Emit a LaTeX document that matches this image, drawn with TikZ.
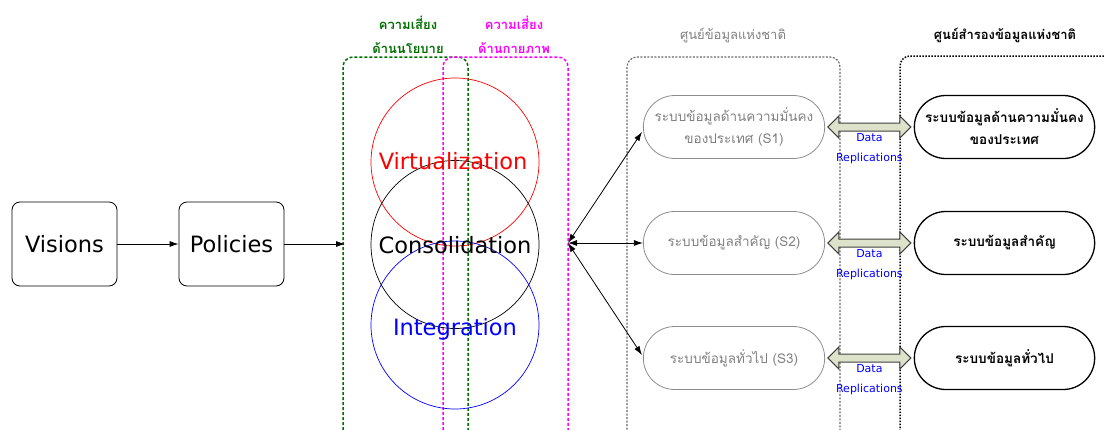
\documentclass[tikz,border=0pt]{standalone}
\usepackage{fontspec}
\setmainfont{Loma}[Script=Thai]
\newfontfamily\latinfont{DejaVu Sans}
\usetikzlibrary{arrows.meta,shapes.arrows,shapes.misc,calc}
\definecolor{dgreen}{RGB}{0,110,0}
\definecolor{magen}{RGB}{255,0,255}
\definecolor{grtxt}{RGB}{128,128,128}
\definecolor{grframe}{RGB}{105,105,105}
\definecolor{arrfill}{RGB}{221,226,202}
\tikzset{
  bigbox/.style={draw, rounded corners=8pt, minimum width=105pt, minimum height=84pt, line width=0.8pt, font=\latinfont\fontsize{22.5}{26}\selectfont},
  graynode/.style={rounded rectangle, draw=grtxt!90, text=grtxt, minimum width=188pt, minimum height=63pt, line width=0.8pt, align=center, font=\fontsize{13.5}{22}\selectfont},
  blacknode/.style={rounded rectangle, draw, minimum width=187pt, minimum height=63pt, line width=1.3pt, align=center, font=\fontsize{13.5}{22}\selectfont\bfseries},
  repl/.style={double arrow, draw=black!75, fill=arrfill, line width=1pt, minimum width=22pt, double arrow head extend=7pt, double arrow head indent=0pt, inner sep=3.5pt, minimum height=83pt},
  repltxt/.style={text=blue, font=\latinfont\fontsize{11}{12}\selectfont},
  flow/.style={-{Latex[length=9pt,width=6pt]}, line width=0.8pt},
  hubarr/.style={{Latex[length=9pt,width=6pt]}-{Latex[length=9pt,width=6pt]}, line width=0.8pt},
  circtxt/.style={font=\latinfont\fontsize{22.5}{26}\selectfont},
  risklbl/.style={font=\fontsize{13}{24}\selectfont\bfseries, align=center},
}
\begin{document}
\begin{tikzpicture}[x=1pt,y=-1pt]
\useasboundingbox (0,0) rectangle (1105,429);
\clip (0,0) rectangle (1105,429);
% dashed region frames
\draw[dgreen, line width=1.5pt, dash pattern=on 3pt off 2pt, rounded corners=10pt]
  (343,440) -- (343,57) -- (468,57) -- (468,440);
\draw[magen, line width=1.5pt, dash pattern=on 3pt off 2pt, rounded corners=10pt]
  (443,440) -- (443,57) -- (568,57) -- (568,440);
\draw[grframe, line width=1.2pt, dash pattern=on 2pt off 1.5pt, rounded corners=10pt]
  (627,440) -- (627,57) -- (840,57) -- (840,440);
\draw[black, line width=1.5pt, dash pattern=on 1.5pt off 1.5pt, rounded corners=10pt]
  (900,440) -- (900,56) -- (1120,56);
% region labels
\node[risklbl, text=dgreen] (lg) at (408,35) {ความเสี่ยง\\ด้านนโยบาย};
\node[risklbl, text=magen] (lm) at (514,35) {ความเสี่ยง\\ด้านกายภาพ};
\node[font=\fontsize{13}{16}\selectfont, text=grtxt] (lc) at (733,35) {ศูนย์ข้อมูลแห่งชาติ};
\node[font=\fontsize{13}{16}\selectfont\bfseries] (lb) at (1005,35) {ศูนย์สำรองข้อมูลแห่งชาติ};
% circles
\draw[red, line width=0.7pt] (455,162) circle (84);
\draw[black, line width=0.7pt] (455,244.5) circle (84);
\draw[blue, line width=0.7pt] (455,325) circle (84);
\node[circtxt, text=red] (virt) at (453,161) {Virtualization};
\node[circtxt] (cons) at (455,245) {Consolidation};
\node[circtxt, text=blue] (integ) at (455,329) {Integration};
% left flow
\node[bigbox] (vis) at (64.5,244) {Visions};
\node[bigbox] (pol) at (231.5,244) {Policies};
\coordinate (gin) at (345,244);
\draw[flow] (vis) -- (pol);
\draw[flow] (pol) -- (gin);
% national data centre systems
\node[graynode] (s1) at (734,127) {ระบบข้อมูลด้านความมั่นคง\\ของประเทศ (S1)};
\node[graynode] (s2) at (734,243) {ระบบข้อมูลสำคัญ (S2)};
\node[graynode] (s3) at (734,358) {ระบบข้อมูลทั่วไป (S3)};
\coordinate (hub) at (568,243);
\draw[hubarr] (hub) -- ($(s1.west)+(-1,5)$);
\draw[hubarr] (hub) -- (s2.west);
\draw[hubarr] (hub) -- ($(s3.west)+(-1,-3)$);
% backup systems
\node[blacknode] (b1) at (1004.5,127) {ระบบข้อมูลด้านความมั่นคง\\ของประเทศ};
\node[blacknode] (b2) at (1004.5,243) {ระบบข้อมูลสำคัญ};
\node[blacknode] (b3) at (1004.5,358) {ระบบข้อมูลทั่วไป};
% replications
\foreach \i in {1,2,3}{
  \node[repl] (r\i) at ($(s\i.east)!0.5!(b\i.west)$) {};
  \node[repltxt, anchor=center] (d\i) at ($(r\i.center)+(0,11)$) {Data};
  \node[repltxt, anchor=center] (rr\i) at ($(r\i.center)+(0,31)$) {Replications};
}
\end{tikzpicture}
\end{document}
